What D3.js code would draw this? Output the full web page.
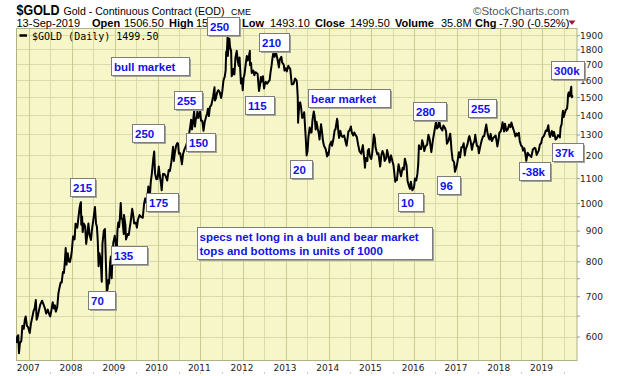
<!DOCTYPE html>
<html><head><meta charset="utf-8">
<script src="https://cdn.jsdelivr.net/npm/d3@7"></script>
<style>body{margin:0;background:#fff}svg{display:block}</style>
</head><body>
<svg id="c" width="620" height="376"></svg>
<script>
// ---------------- DATA ----------------
const goldCloses = [
["2006-09-13",585],["2006-09-20",600],["2006-09-29",603],["2006-10-05",563],["2006-10-13",585],["2006-10-25",590],["2006-11-03",625],["2006-11-15",618],["2006-11-24",640],["2006-12-01",648],["2006-12-12",625],["2006-12-22",622],
["2007-01-05",608],["2007-01-15",630],["2007-01-26",645],["2007-02-07",662],["2007-02-16",668],["2007-02-26",690],["2007-03-05",640],["2007-03-14",648],["2007-03-26",665],["2007-04-05",678],["2007-04-20",688],["2007-05-01",680],["2007-05-15",668],["2007-05-25",655],["2007-06-08",665],["2007-06-22",652],["2007-06-29",648],["2007-07-10",665],["2007-07-20",684],["2007-07-31",668],["2007-08-08",676],["2007-08-16",660],["2007-08-28",672],["2007-09-07",708],["2007-09-14",720],["2007-09-26",738],["2007-10-05",738],["2007-10-15",768],["2007-10-24",765],["2007-11-01",800],["2007-11-08",842],["2007-11-15",790],["2007-11-26",825],["2007-12-05",800],["2007-12-14",798],["2007-12-24",815],["2007-12-31",835],
["2008-01-10",880],["2008-01-18",880],["2008-01-23",870],["2008-01-31",924],["2008-02-08",920],["2008-02-15",910],["2008-02-26",950],["2008-03-05",980],["2008-03-14",1000],["2008-03-17",1003],["2008-03-20",920],["2008-03-27",950],["2008-04-01",895],["2008-04-10",925],["2008-04-22",915],["2008-05-01",855],["2008-05-09",880],["2008-05-20",925],["2008-05-30",885],["2008-06-11",868],["2008-06-20",905],["2008-07-02",940],["2008-07-15",985],["2008-07-24",925],["2008-08-01",912],["2008-08-08",865],["2008-08-15",785],["2008-08-22",825],["2008-09-02",805],["2008-09-11",740],["2008-09-17",855],["2008-09-29",900],["2008-10-08",905],["2008-10-16",800],["2008-10-24",712],["2008-10-31",720],["2008-11-06",745],["2008-11-13",735],["2008-11-21",795],["2008-11-28",815],["2008-12-05",750],["2008-12-12",820],["2008-12-19",860],["2008-12-31",882],
["2009-01-09",855],["2009-01-15",805],["2009-01-23",900],["2009-01-30",928],["2009-02-06",912],["2009-02-13",945],["2009-02-20",1000],["2009-02-27",942],["2009-03-06",940],["2009-03-18",888],["2009-03-20",955],["2009-04-01",920],["2009-04-06",870],["2009-04-21",888],["2009-04-30",885],["2009-05-08",910],["2009-05-15",928],["2009-05-29",978],["2009-06-05",960],["2009-06-15",925],["2009-06-30",928],["2009-07-08",910],["2009-07-17",938],["2009-07-31",955],["2009-08-14",948],["2009-08-27",945],["2009-09-08",998],["2009-09-17",1018],["2009-09-30",998],["2009-10-14",1065],["2009-10-27",1030],["2009-11-04",1085],["2009-11-12",1115],["2009-11-25",1185],["2009-12-03",1218],["2009-12-10",1120],["2009-12-21",1095],["2009-12-31",1097],
["2010-01-11",1150],["2010-01-20",1110],["2010-01-28",1085],["2010-02-05",1050],["2010-02-16",1118],["2010-02-26",1118],["2010-03-10",1110],["2010-03-24",1090],["2010-04-06",1135],["2010-04-16",1130],["2010-04-28",1168],["2010-05-07",1210],["2010-05-13",1240],["2010-05-20",1175],["2010-05-28",1210],["2010-06-08",1245],["2010-06-18",1258],["2010-06-25",1255],["2010-07-02",1208],["2010-07-13",1210],["2010-07-28",1160],["2010-08-06",1205],["2010-08-18",1228],["2010-08-27",1238],["2010-09-07",1255],["2010-09-16",1275],["2010-09-29",1310],["2010-10-08",1345],["2010-10-14",1375],["2010-10-22",1325],["2010-10-29",1358],["2010-11-09",1422],["2010-11-16",1340],["2010-11-23",1378],["2010-12-02",1390],["2010-12-07",1420],["2010-12-15",1385],["2010-12-31",1420],
["2011-01-07",1370],["2011-01-18",1370],["2011-01-28",1318],["2011-02-08",1365],["2011-02-18",1388],["2011-02-28",1410],["2011-03-07",1435],["2011-03-15",1395],["2011-03-24",1445],["2011-04-05",1455],["2011-04-20",1502],["2011-05-02",1557],["2011-05-05",1480],["2011-05-13",1490],["2011-05-24",1525],["2011-06-03",1540],["2011-06-15",1530],["2011-06-28",1495],["2011-07-07",1530],["2011-07-18",1600],["2011-07-28",1620],["2011-08-05",1660],["2011-08-10",1785],["2011-08-16",1790],["2011-08-22",1892],["2011-08-24",1755],["2011-08-31",1830],["2011-09-06",1875],["2011-09-12",1815],["2011-09-21",1790],["2011-09-26",1625],["2011-10-04",1640],["2011-10-10",1670],["2011-10-19",1635],["2011-10-28",1745],["2011-11-08",1790],["2011-11-17",1720],["2011-11-25",1690],["2011-12-02",1745],["2011-12-14",1580],["2011-12-22",1610],["2011-12-29",1540],
["2012-01-06",1615],["2012-01-13",1635],["2012-01-25",1710],["2012-02-02",1755],["2012-02-10",1725],["2012-02-21",1760],["2012-02-28",1790],["2012-02-29",1695],["2012-03-09",1710],["2012-03-15",1645],["2012-03-29",1660],["2012-04-06",1630],["2012-04-16",1650],["2012-04-25",1645],["2012-05-04",1640],["2012-05-16",1535],["2012-05-25",1570],["2012-06-01",1620],["2012-06-06",1590],["2012-06-19",1625],["2012-06-28",1550],["2012-07-06",1580],["2012-07-13",1590],["2012-07-24",1578],["2012-08-02",1588],["2012-08-15",1600],["2012-08-22",1645],["2012-08-31",1690],["2012-09-07",1735],["2012-09-14",1770],["2012-09-26",1750],["2012-10-04",1795],["2012-10-12",1765],["2012-10-23",1725],["2012-11-02",1680],["2012-11-09",1730],["2012-11-23",1750],["2012-11-30",1712],["2012-12-07",1705],["2012-12-14",1695],["2012-12-20",1660],["2012-12-31",1675],
["2013-01-08",1655],["2013-01-22",1690],["2013-01-30",1680],["2013-02-07",1670],["2013-02-15",1610],["2013-02-20",1575],["2013-03-01",1575],["2013-03-08",1580],["2013-03-20",1610],["2013-04-01",1600],["2013-04-05",1585],["2013-04-12",1500],["2013-04-15",1360],["2013-04-18",1395],["2013-04-26",1465],["2013-05-03",1470],["2013-05-10",1445],["2013-05-20",1385],["2013-05-31",1395],["2013-06-06",1415],["2013-06-20",1275],["2013-06-27",1200],["2013-07-05",1220],["2013-07-12",1285],["2013-07-23",1335],["2013-08-01",1310],["2013-08-08",1310],["2013-08-16",1375],["2013-08-27",1420],["2013-09-04",1390],["2013-09-12",1325],["2013-09-19",1365],["2013-09-30",1328],["2013-10-09",1305],["2013-10-15",1275],["2013-10-28",1352],["2013-11-05",1315],["2013-11-13",1270],["2013-11-22",1245],["2013-12-06",1230],["2013-12-19",1195],["2013-12-27",1213],["2013-12-31",1202],
["2014-01-10",1248],["2014-01-24",1265],["2014-01-30",1245],["2014-02-10",1275],["2014-02-21",1320],["2014-02-28",1325],["2014-03-14",1380],["2014-03-17",1372],["2014-03-25",1312],["2014-03-31",1283],["2014-04-11",1318],["2014-04-21",1292],["2014-04-30",1288],["2014-05-13",1295],["2014-05-28",1258],["2014-06-03",1245],["2014-06-19",1315],["2014-06-30",1322],["2014-07-10",1340],["2014-07-18",1310],["2014-07-30",1295],["2014-08-08",1310],["2014-08-18",1298],["2014-08-29",1288],["2014-09-10",1250],["2014-09-22",1218],["2014-10-06",1208],["2014-10-20",1248],["2014-11-04",1168],["2014-11-07",1145],["2014-11-14",1188],["2014-11-28",1175],["2014-12-01",1220],["2014-12-10",1230],["2014-12-19",1195],["2014-12-31",1184],
["2015-01-08",1210],["2015-01-22",1300],["2015-01-30",1280],["2015-02-06",1235],["2015-02-20",1205],["2015-03-02",1210],["2015-03-17",1150],["2015-03-27",1200],["2015-04-06",1220],["2015-04-17",1205],["2015-04-24",1175],["2015-05-08",1188],["2015-05-15",1225],["2015-05-29",1190],["2015-06-05",1168],["2015-06-18",1200],["2015-06-30",1172],["2015-07-08",1158],["2015-07-24",1085],["2015-07-31",1095],["2015-08-07",1092],["2015-08-21",1160],["2015-08-31",1135],["2015-09-11",1108],["2015-09-25",1145],["2015-10-05",1137],["2015-10-14",1185],["2015-10-28",1155],["2015-11-06",1088],["2015-11-17",1068],["2015-11-27",1056],["2015-12-04",1085],["2015-12-17",1050],["2015-12-31",1061],
["2016-01-08",1098],["2016-01-19",1090],["2016-01-29",1118],["2016-02-05",1158],["2016-02-11",1248],["2016-02-19",1230],["2016-03-01",1230],["2016-03-10",1272],["2016-03-18",1255],["2016-03-28",1220],["2016-04-08",1243],["2016-04-21",1250],["2016-05-02",1298],["2016-05-13",1275],["2016-05-27",1215],["2016-06-10",1275],["2016-06-16",1295],["2016-06-24",1322],["2016-07-06",1367],["2016-07-15",1330],["2016-07-27",1340],["2016-08-02",1372],["2016-08-12",1337],["2016-08-29",1320],["2016-09-07",1345],["2016-09-21",1332],["2016-09-30",1315],["2016-10-07",1255],["2016-10-20",1268],["2016-11-04",1304],["2016-11-09",1275],["2016-11-15",1225],["2016-11-25",1178],["2016-12-07",1170],["2016-12-15",1127],["2016-12-30",1152],
["2017-01-06",1173],["2017-01-17",1215],["2017-01-27",1190],["2017-02-08",1238],["2017-02-17",1238],["2017-02-27",1257],["2017-03-09",1200],["2017-03-16",1227],["2017-03-31",1250],["2017-04-12",1285],["2017-04-17",1292],["2017-04-27",1268],["2017-05-09",1226],["2017-05-19",1254],["2017-05-31",1268],["2017-06-06",1298],["2017-06-20",1245],["2017-06-30",1242],["2017-07-07",1210],["2017-07-19",1242],["2017-07-31",1270],["2017-08-11",1290],["2017-08-22",1292],["2017-08-29",1318],["2017-09-08",1351],["2017-09-18",1310],["2017-09-29",1283],["2017-10-06",1275],["2017-10-16",1303],["2017-10-26",1268],["2017-11-08",1283],["2017-11-27",1295],["2017-12-06",1265],["2017-12-12",1242],["2017-12-22",1275],["2017-12-29",1309],
["2018-01-09",1315],["2018-01-19",1335],["2018-01-25",1362],["2018-02-08",1315],["2018-02-15",1355],["2018-02-28",1318],["2018-03-09",1323],["2018-03-23",1350],["2018-04-03",1337],["2018-04-11",1361],["2018-04-24",1333],["2018-05-04",1315],["2018-05-15",1290],["2018-05-24",1305],["2018-06-01",1295],["2018-06-14",1308],["2018-06-21",1268],["2018-07-03",1245],["2018-07-13",1241],["2018-07-19",1222],["2018-07-31",1233],["2018-08-07",1210],["2018-08-16",1175],["2018-08-28",1212],["2018-09-10",1200],["2018-09-21",1200],["2018-09-28",1192],["2018-10-11",1227],["2018-10-26",1235],["2018-11-02",1233],["2018-11-13",1202],["2018-11-30",1222],["2018-12-10",1250],["2018-12-21",1258],["2018-12-31",1284],
["2019-01-04",1286],["2019-01-14",1293],["2019-01-30",1320],["2019-02-08",1317],["2019-02-20",1347],["2019-03-01",1299],["2019-03-07",1287],["2019-03-22",1317],["2019-04-01",1292],["2019-04-10",1313],["2019-04-23",1275],["2019-05-03",1281],["2019-05-14",1297],["2019-05-30",1285],["2019-06-05",1336],["2019-06-14",1352],["2019-06-20",1398],["2019-06-25",1423],["2019-07-02",1390],["2019-07-12",1413],["2019-07-19",1427],["2019-07-31",1437],["2019-08-05",1476],["2019-08-07",1510],["2019-08-13",1527],["2019-08-22",1505],["2019-08-29",1536],["2019-09-04",1560],["2019-09-06",1515],["2019-09-10",1499],["2019-09-12",1507],["2019-09-13",1499.5]
];
const yTickLabels = ["600","700","800","900","1000","1100","1200","1300","1400","1500","1600","1700","1800","1900"];
const yMinorLevels = [650,750,850,950];
const xTickLabels = ["2007","2008","2009","2010","2011","2012","2013","2014","2015","2016","2017","2018","2019"];
// annotation labels anchored at (date, price) of the box's top-left corner
const annoLabels = ["250","210","bull market","255","250","150","115","bear market","20","280","255","300k","37k","-38k","96","10","215","175","135","70"];
const annoDates  = ["2011-02-26","2012-05-14","2008-11-29","2010-05-24","2009-05-30","2010-09-01","2012-01-20","2013-07-12","2013-02-06","2015-12-25","2017-04-01","2019-03-13","2019-03-21","2018-06-13","2016-07-17","2015-08-14","2007-12-19","2009-09-21","2008-11-29","2008-05-18"];
const annoPrices = [2036,1914,1748,1536,1351,1306,1506,1547,1179,1474,1487,1722,1257,1172,1109,1038,1102,1038,849,713];
const noteLines = ["specs net long in a bull and bear market","tops and bottoms in units of 1000"];
const noteDate = "2010-12-01", notePrice = 914;
const headerFields = [["Open","1506.50"],["High","1513.60"],["Low","1493.10"],["Close","1499.50"],["Volume","35.8M"],["Chg","-7.90 (-0.52%)"]];

// ---------------- LAYOUT ----------------
const L = 16, R = 577, T = 28.5, B = 360.5;
const annoBoxW = [32,30,78,28,32,29,29,82,22,33,28,33,31,31,23,25,25,32,36,27];
const headerX = [[92,124],[169,196],[242,270],[315,350],[395,441],[475,499]];
const blue = "#1212e6";

const parse = d3.timeParse("%Y-%m-%d");
const series = goldCloses.map(d => ({date: parse(d[0]), close: d[1]}));
const x = d3.scaleTime().domain([parse("2006-09-13"), parse("2019-09-13")]).range([16.4, 572.3]);
const y = d3.scaleLog().domain([547.4, 1950]).range([B, T]);

const svg = d3.select("#c");
svg.append("rect").attr("width",620).attr("height",376).attr("fill","#fff");

// plot background
svg.append("rect").attr("x",L).attr("y",T).attr("width",R-L).attr("height",B-T).attr("fill","#f7f6c8");

// grid
const gridG = svg.append("g");
const yLevels = yTickLabels.map(Number).concat(yMinorLevels);
gridG.selectAll("line.h").data(yLevels).join("line")
  .attr("x1",L).attr("x2",R).attr("y1",d=>Math.round(y(d))+0.5).attr("y2",d=>Math.round(y(d))+0.5)
  .attr("stroke","#d9dba8").attr("stroke-width",1);
const halfYears = d3.timeMonth.every(6).range(x.domain()[0], x.domain()[1]);
gridG.selectAll("line.v").data(halfYears).join("line")
  .attr("x1",d=>Math.round(x(d))+0.5).attr("x2",d=>Math.round(x(d))+0.5).attr("y1",T).attr("y2",B)
  .attr("stroke",d=>d.getMonth()===0 ? "#c9cc92" : "#d9dba8").attr("stroke-width",1);

// plot border
svg.append("rect").attr("x",L+0.5).attr("y",T).attr("width",R-L-0.5).attr("height",B-T)
  .attr("fill","none").attr("stroke","#b0b283").attr("stroke-width",1);

// price line
svg.append("defs").append("clipPath").attr("id","clip").append("rect")
  .attr("x",L).attr("y",T).attr("width",R-L).attr("height",B-T);
svg.append("path").datum(series).attr("clip-path","url(#clip)")
  .attr("fill","none").attr("stroke","#000").attr("stroke-width",2).attr("stroke-linejoin","round")
  .attr("d", d3.line().x(d=>x(d.date)).y(d=>y(d.close)));

// right axis
const yAxis = d3.axisRight(y).tickValues(yLevels).tickSize(3).tickSizeOuter(0)
  .tickFormat(d => yTickLabels.includes(String(d)) ? String(d) : "");
const ya = svg.append("g").attr("transform",`translate(${R},0)`).call(yAxis);
ya.select(".domain").remove();
ya.selectAll(".tick line").attr("stroke","#999");
ya.selectAll(".tick text").attr("x",26).attr("text-anchor","end").attr("dy","0.35em")
  .attr("font-family","DejaVu Sans").attr("font-size",9).attr("fill","#222");

// bottom axis
const xAxis = d3.axisBottom(x).tickValues(xTickLabels.map(s=>parse(s+"-01-01")))
  .tickSize(0).tickFormat((d,i)=>xTickLabels[i]);
const xa = svg.append("g").attr("transform",`translate(0,${B})`).call(xAxis);
xa.select(".domain").remove();
xa.selectAll(".tick text").attr("y",10).attr("dy","0").attr("dx",-1.5)
  .attr("font-family","DejaVu Sans").attr("font-size",9).attr("fill","#222");
svg.append("g").selectAll("line").data(halfYears).join("line")
  .attr("x1",d=>Math.round(x(d))+0.5).attr("x2",d=>Math.round(x(d))+0.5).attr("y1",372).attr("y2",374)
  .attr("stroke","#ccc");

// legend
svg.append("line").attr("x1",19.5).attr("x2",27).attr("y1",35.5).attr("y2",35.5).attr("stroke","#000").attr("stroke-width",2.5);
svg.append("text").attr("x",32).attr("y",39.5).attr("font-family","DejaVu Sans Mono").attr("font-size",10)
  .attr("fill","#000").text("$GOLD (Daily) 1499.50");

// header
const hdr = svg.append("g").attr("font-family","Liberation Sans, Arial, sans-serif").attr("fill","#000");
hdr.append("text").attr("x",16.5).attr("y",14.5).attr("font-size",15).attr("font-weight","bold")
  .attr("textLength",43).attr("lengthAdjust","spacingAndGlyphs").text("$GOLD");
hdr.append("text").attr("x",63.5).attr("y",14.5).attr("font-size",11)
  .attr("textLength",161).attr("lengthAdjust","spacingAndGlyphs").text("Gold - Continuous Contract (EOD)");
hdr.append("text").attr("x",231).attr("y",14.5).attr("font-size",9).text("CME");
hdr.append("text").attr("x",569).attr("y",14.5).attr("font-size",11.5).attr("fill","#555").attr("text-anchor","end").text("©StockCharts.com");
hdr.append("text").attr("x",16.5).attr("y",26.5).attr("font-size",11).text("13-Sep-2019");
headerFields.forEach((f,i)=>{
  hdr.append("text").attr("x",headerX[i][0]).attr("y",26.5).attr("font-size",11).attr("font-weight","bold").text(f[0]);
  hdr.append("text").attr("x",headerX[i][1]).attr("y",26.5).attr("font-size",11).text(f[1]);
});
svg.append("path").attr("d","M568.5,20.5 L575.5,20.5 L572,25 Z").attr("fill","#9b1b3c");

// annotations
const ag = svg.append("g");
annoLabels.forEach((lab,i)=>{
  const bx = Math.round(x(parse(annoDates[i]))), by = Math.round(y(annoPrices[i]));
  const w = annoBoxW[i], h = 18;
  ag.append("rect").attr("x",bx+2).attr("y",by+2).attr("width",w).attr("height",h).attr("fill","#a3a39a");
  ag.append("rect").attr("x",bx+0.5).attr("y",by+0.5).attr("width",w).attr("height",h).attr("fill","#fff").attr("stroke","#7d7d7d");
  ag.append("text").attr("x",bx+3).attr("y",by+14).attr("font-family","Liberation Sans, Arial, sans-serif")
    .attr("font-weight","bold").attr("font-size",11.5).attr("fill",blue).text(lab);
});
{
  const bx = Math.round(x(parse(noteDate))), by = Math.round(y(notePrice));
  const w = 235, h = 32;
  ag.append("rect").attr("x",bx+2).attr("y",by+2).attr("width",w).attr("height",h).attr("fill","#a3a39a");
  ag.append("rect").attr("x",bx+0.5).attr("y",by+0.5).attr("width",w).attr("height",h).attr("fill","#fff").attr("stroke","#7d7d7d");
  noteLines.forEach((t,j)=>{
    ag.append("text").attr("x",bx+2.5).attr("y",by+13.5+j*14).attr("font-family","Liberation Sans, Arial, sans-serif")
      .attr("font-weight","bold").attr("font-size",11.5).attr("fill",blue).text(t);
  });
}
</script>
</body></html>
